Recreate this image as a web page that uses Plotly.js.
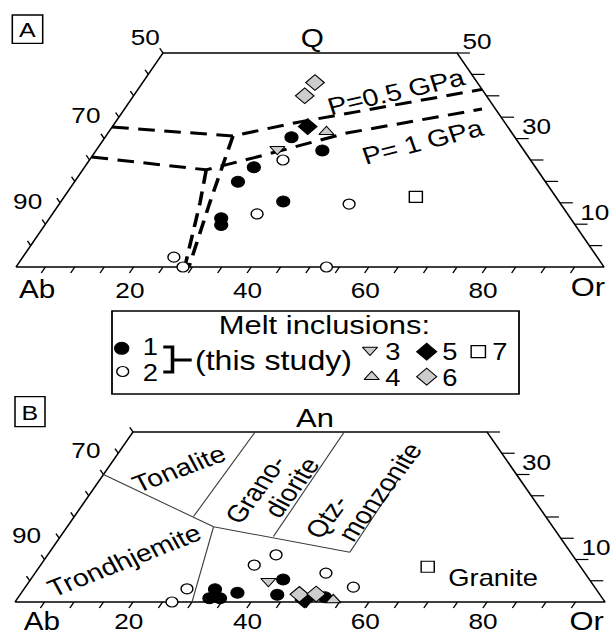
<!DOCTYPE html>
<html><head><meta charset="utf-8">
<script src="https://cdn.plot.ly/plotly-3.0.1.min.js"></script>
<style>
html,body{margin:0;padding:0;overflow:hidden;background:#fff;}
#wrap{width:610px;height:634px;overflow:hidden;}
#plot{width:513px;height:634px;transform:scaleX(1.18908);transform-origin:0 0;}
</style></head>
<body><div id="wrap"><div id="plot"></div></div>
<script>
// ===== Panel A: Q (top) - Ab (left) - Or (right), wt% normative =====
const A1_Q=[30.3,23.3,19.9,11.4,9.8,15.3,27.2], A1_Ab=[38.0,47.9,52.3,59.4,60.2,46.9,34.3], A1_Or=[31.7,28.8,27.8,29.2,30.0,37.8,38.5];
const A2_Q=[25.0,12.4,14.7,2.3,0,0], A2_Ab=[42.1,52.8,36.0,72.0,71.6,47.2], A2_Or=[32.9,34.8,49.3,25.7,28.4,52.8];
const A3_Q=[27.5], A3_Ab=[41.8], A3_Or=[30.7];
const A4_Q=[31.6], A4_Ab=[31.4], A4_Or=[37.0];
const A5_Q=[32.8], A5_Ab=[34.0], A5_Or=[33.2];
const A6_Q=[40.0,43.1], A6_Ab=[30.9,27.6], A6_Or=[29.1,29.3];
const A7_Q=[16.4], A7_Ab=[23.8], A7_Or=[59.8];
// cotectic lines
const P05_Q=[32.7,30.6,33.6,36.3,41.5], P05_Ab=[67.3,47.8,36.1,23.9,0], P05_Or=[0,21.6,30.3,39.8,58.5];
const P05d_Q=[30.6,23.4,15.2,0], P05d_Ab=[47.8,53.2,59.4,70.6], P05d_Or=[21.6,23.4,25.4,29.4];
const P1_Q=[25.7,22.7,25.7,31.3,36.9], P1_Ab=[74.3,56.3,46.2,28.1,2.3], P1_Or=[0,21.0,28.1,40.6,60.8];
const P1d_Q=[22.7,15.0,0], P1d_Ab=[56.3,61.2,71.3], P1d_Or=[21.0,23.8,28.7];

// ===== Panel B: An (top) - Ab (left) - Or (right) =====
const B1_An=[3.0,0.9,0.9,2.2,5.3,1.7,1.1], B1_Ab=[64.6,66.6,64.8,61.2,51.9,54.7,46.9], B1_Or=[32.4,32.5,34.3,36.6,42.8,43.6,52.0];
const B2_An=[0,3.1,8.7,11.1,6.8,3.5], B2_Ab=[73.4,69.3,55.1,50.2,43.9,40.9], B2_Or=[26.6,27.6,36.2,38.7,49.3,55.6];
const B3_An=[4.9], B3_Ab=[54.6], B3_Or=[40.5];
const B4_An=[0.5], B4_Ab=[45.8], B4_Or=[53.7];
const B5_An=[0.5], B5_Ab=[50.7], B5_Or=[48.8];
const B6_An=[1.8,1.9], B6_Ab=[50.9,48.0], B6_Or=[47.3,50.1];
const B7_An=[8.3], B7_Ab=[25.9], B7_Or=[65.8];
// field boundaries
const BL1_An=[30,17.7], BL1_Ab=[70,57.5], BL1_Or=[0,24.8];
const BL2_An=[40,20.1], BL2_Ab=[39.3,59.7], BL2_Or=[20.7,20.2];
const BL3_An=[17.7,0], BL3_Ab=[57.5,70], BL3_Or=[24.8,30];
const BL4_An=[17.7,11.7], BL4_Ab=[57.5,37.4], BL4_Or=[24.8,50.9];
const BL5_An=[40,15.4], BL5_Ab=[24.2,48.5], BL5_Or=[35.8,36.1];
const BL6_An=[11.7,28.9], BL6_Ab=[37.4,20.6], BL6_Or=[50.9,50.5];

// ticks and labels
const TICKS=[5,10,15,20,25,30,35,40,45,50,55,60,65,70,75,80,85,90,95];
const A_TOPMAX=50, B_TOPMAX=40;
const A_bottomLabels=[20,40,60,80], A_leftLabels=[50,70,90], A_rightLabels=[50,30,10];
const B_bottomLabels=[20,40,60,80], B_leftLabels=[70,90], B_rightLabels=[30,10];

// ---------------------------------------------------------------
const SX=610/513;
const FONT='Liberation Sans, Arial, Helvetica, sans-serif';
const GRAY='#cccccc';

function tern(top,ab,or){
  const x=[],y=[];
  for(let i=0;i<top.length;i++){
    const s=top[i]+ab[i]+or[i];
    x.push((or[i]+top[i]/2)/s*100); y.push(top[i]/s*100);
  }
  return {x,y};
}
const traces=[];
function addLine(p,ax,color,width,dash){
  const t=tern(p[0],p[1],p[2]);
  traces.push({type:'scatter',mode:'lines',x:t.x,y:t.y,xaxis:ax[0],yaxis:ax[1],
    line:{color:color,width:width,dash:dash||'solid'},hoverinfo:'skip'});
}
function addPts(p,ax,symbol,size,fill,lw){
  const t=tern(p[0],p[1],p[2]);
  traces.push({type:'scatter',mode:'markers',x:t.x,y:t.y,xaxis:ax[0],yaxis:ax[1],
    marker:{symbol:symbol,size:size,color:fill,line:{color:'#000',width:lw}},hoverinfo:'skip'});
}
function addFrame(topMax,ax){
  const x=[0,100,100-topMax/2,topMax/2,0], y=[0,0,topMax,topMax,0];
  traces.push({type:'scatter',mode:'lines',x:x,y:y,xaxis:ax[0],yaxis:ax[1],
    line:{color:'#000',width:1.4},hoverinfo:'skip'});
  const tb=1.4, tl=1.1, tr=2.2, tx=[], ty=[];
  TICKS.forEach(v=>{ tx.push(v,v-tb/2,null); ty.push(0,-tb,null); });
  TICKS.forEach(v=>{ if(v<=topMax){ tx.push(100-v/2,100-v/2+tr,null); ty.push(v,v,null);} });
  TICKS.forEach(v=>{ if(v<=topMax){ tx.push(v/2,v/2-tl/2,null); ty.push(v,v+tl,null);} });
  traces.push({type:'scatter',mode:'lines',x:tx,y:ty,xaxis:ax[0],yaxis:ax[1],
    line:{color:'#000',width:1.2},hoverinfo:'skip'});
}
const annotations=[];
function txt(text,px,py,size,angle){
  annotations.push({text:text,xref:'paper',yref:'paper',x:px/610,y:1-py/634,
    xanchor:'center',yanchor:'middle',showarrow:false,textangle:angle||0,
    font:{family:FONT,size:size,color:'#000'}});
}
function tickLabel(text,ax,x,y,dx,dy,size){
  annotations.push({text:String(text),xref:ax[0],yref:ax[1],x:x,y:y,xshift:dx/SX,yshift:-dy,
    xanchor:'center',yanchor:'middle',showarrow:false,font:{family:FONT,size:size,color:'#000'}});
}
function addLabels(topMax,ax,bottom,left,right,leftDy,bottomDy){
  bottom.forEach(v=>tickLabel(v,ax,v,0,-4,bottomDy,22));
  left.forEach(v=>{const q=100-v; tickLabel(v,ax,q/2,q,-18,(q===topMax?-15.5:leftDy),22);});
  right.forEach(v=>tickLabel(v,ax,100-v/2,v,20,-12,22));
}

const AX_A=['x','y'], AX_B=['x2','y2'];

// Panel A
addFrame(A_TOPMAX,AX_A);
const DASH='14px,8px';
addLine([P05_Q,P05_Ab,P05_Or],AX_A,'#000',3,DASH);
addLine([P05d_Q,P05d_Ab,P05d_Or],AX_A,'#000',3,DASH);
addLine([P1_Q,P1_Ab,P1_Or],AX_A,'#000',3,DASH);
addLine([P1d_Q,P1d_Ab,P1d_Or],AX_A,'#000',3,DASH);
addPts([A2_Q,A2_Ab,A2_Or],AX_A,'circle',10,'#fff',1.2);
addPts([A1_Q,A1_Ab,A1_Or],AX_A,'circle',11,'#000',1);
addPts([A3_Q,A3_Ab,A3_Or],AX_A,'triangle-down',11,GRAY,1);
addPts([A4_Q,A4_Ab,A4_Or],AX_A,'triangle-up',11,GRAY,1);
addPts([A5_Q,A5_Ab,A5_Or],AX_A,'diamond',12,'#000',1);
addPts([A6_Q,A6_Ab,A6_Or],AX_A,'diamond',12,GRAY,1);
addPts([A7_Q,A7_Ab,A7_Or],AX_A,'square',11,'#fff',1.2);
addLabels(A_TOPMAX,AX_A,A_bottomLabels,A_leftLabels,A_rightLabels,-23,23);

// Panel B
addFrame(B_TOPMAX,AX_B);
[[BL1_An,BL1_Ab,BL1_Or],[BL2_An,BL2_Ab,BL2_Or],[BL3_An,BL3_Ab,BL3_Or],
 [BL4_An,BL4_Ab,BL4_Or],[BL5_An,BL5_Ab,BL5_Or],[BL6_An,BL6_Ab,BL6_Or]]
 .forEach(p=>addLine(p,AX_B,'#3c3c3c',1));
addPts([B2_An,B2_Ab,B2_Or],AX_B,'circle',10,'#fff',1.2);
addPts([B1_An,B1_Ab,B1_Or],AX_B,'circle',11,'#000',1);
addPts([B3_An,B3_Ab,B3_Or],AX_B,'triangle-down',11,GRAY,1);
addPts([B5_An,B5_Ab,B5_Or],AX_B,'diamond',12,'#000',1);
addPts([B6_An,B6_Ab,B6_Or],AX_B,'diamond',12,GRAY,1);
addPts([B4_An,B4_Ab,B4_Or],AX_B,'triangle-up',11,GRAY,1);
addPts([B7_An,B7_Ab,B7_Or],AX_B,'square',11,'#fff',1.2);
addLabels(B_TOPMAX,AX_B,B_bottomLabels,B_leftLabels,B_rightLabels,-24.5,19);

// Legend symbols (layout positions in page pixels)
function legSym(px,py,symbol,size,fill,lw){
  traces.push({type:'scatter',mode:'markers',x:[px],y:[py],xaxis:'x3',yaxis:'y3',
    marker:{symbol:symbol,size:size,color:fill,line:{color:'#000',width:lw}},hoverinfo:'skip'});
}
legSym(121.7,348.3,'circle',12,'#000',1);
legSym(122.7,371.5,'circle',10,'#fff',1.2);
legSym(370,350,'triangle-down',11,GRAY,1);
legSym(371.7,376.7,'triangle-up',11,GRAY,1);
legSym(426.7,351.7,'diamond',13,'#000',1);
legSym(426.7,376.7,'diamond',13,GRAY,1);
legSym(478.3,351.7,'square',12,'#fff',1.2);
traces.push({type:'scatter',mode:'lines',xaxis:'x3',yaxis:'y3',hoverinfo:'skip',
  x:[163.3,172.5,172.5,163.3,null,172.5,191.7],y:[347,347,372,372,null,360,360],
  line:{color:'#000',width:3}});

// Texts
txt('A',27.5,29.5,21); txt('B',30,412,21);
txt('Q',311.7,38,25); txt('Ab',37.5,289,25); txt('Or',587.5,287,26);
txt('An',315.7,418.3,26); txt('Ab',41.7,621,25); txt('Or',586.7,620.5,26);
txt('P=0.5 GPa',396.7,91.7,24,-15);
txt('P= 1 GPa',423.3,141.7,24,-16.5);
txt('Tonalite',179,468.3,24,-24);
txt('Trondhjemite',124,560.7,24,-25);
txt('Grano-',255,489,24,-58);
txt('diorite',291,487,24,-58);
txt('Qtz-',326.7,516.7,24,-58);
txt('monzonite',380,491.7,24,-58);
txt('Granite',493,578,23);
txt('Melt inclusions:',325,325,26);
txt('1',150,347,23); txt('2',150,373,23);
txt('(this study)',273,361,27);
txt('3',393.3,352,23); txt('4',393.3,378,23);
txt('5',450,352,23); txt('6',450,378,23);
txt('7',500,352,23);

function rect(x0,y0,x1,y1,w){
  return {type:'rect',xref:'paper',yref:'paper',x0:x0/610,x1:x1/610,y0:1-y1/634,y1:1-y0/634,
    line:{color:'#000',width:w},fillcolor:'rgba(0,0,0,0)'};
}
const hid={visible:false,fixedrange:true,showgrid:false,zeroline:false};
const layout={
  width:513,height:634,margin:{l:0,r:0,t:0,b:0,pad:0},
  paper_bgcolor:'#fff',plot_bgcolor:'rgba(0,0,0,0)',showlegend:false,
  xaxis:Object.assign({},hid,{range:[-2.721,101.020],domain:[0,1],anchor:'y'}),
  yaxis:Object.assign({},hid,{range:[-85.748,62.383],domain:[0,1],anchor:'x'}),
  xaxis2:Object.assign({},hid,{range:[-2.542,100.847],overlaying:'x',anchor:'y2'}),
  yaxis2:Object.assign({},hid,{range:[-7.529,141.647],overlaying:'y',anchor:'x2'}),
  xaxis3:Object.assign({},hid,{range:[0,610],overlaying:'x',anchor:'y3'}),
  yaxis3:Object.assign({},hid,{range:[634,0],overlaying:'y',anchor:'x3'}),
  shapes:[rect(12.3,15,42.7,43.3,1.3),rect(15,396.7,45,426.7,1.3),rect(112,311,519,394,1.5)],
  annotations:annotations
};
Plotly.newPlot('plot',traces,layout,{staticPlot:true,displayModeBar:false});
</script></body></html>
